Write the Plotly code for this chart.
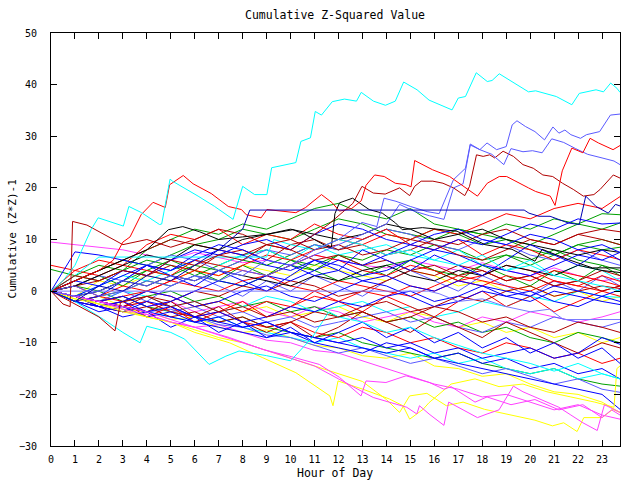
import plotly.graph_objects as go

# ---------------- data ----------------
HOURS = list(range(24)) + [23.75]
X_TICKS = list(range(24))
Y_TICKS = [-30, -20, -10, 0, 10, 20, 30, 40, 50]

RED = '#ff0000'; DKRED = '#b00000'; BLUE = '#0000ff'; MBLUE = '#5a5aff'
NAVY = '#0000b4'; CYAN = '#00ffff'; MAG = '#ff40ff'; YEL = '#ffff00'
GRN = '#00a000'; BLK = '#000000'; PURP = '#7878ff'

# traced lines (hour, value)
cyan_top_x = [0, 0.5, 1, 1.67, 1.97, 3.02, 3.25, 3.78, 4.53, 4.62, 4.97, 5.07, 6.14, 6.83, 7.6, 8.0, 8.5, 9.01, 9.21, 10.22, 10.43, 10.83, 11.03, 11.29, 11.74, 12.25, 12.75, 12.95, 13.46, 13.96, 14.37, 14.72, 15.28, 15.78, 16.74, 17.0, 17.3, 17.75, 18.21, 18.41, 18.71, 19.32, 19.93, 20.23, 21.09, 21.74, 22.05, 22.75, 23.06, 23.36, 23.62, 23.75]
cyan_top_y = [0, 2, 5, 11.9, 14.2, 12.6, 16.4, 15.2, 12.9, 13, 21.7, 21.3, 18.4, 16.4, 13.9, 20.3, 18.7, 18.7, 23.9, 24.9, 29, 29.7, 34.8, 34.1, 36.7, 37.2, 36.8, 38.5, 36.8, 36, 36.8, 40.5, 39, 37, 35.1, 37.4, 37.7, 42.3, 40.6, 40.8, 42.1, 40.3, 38.6, 38.8, 37.7, 36.1, 38.3, 39, 38.6, 40.3, 39.3, 38.5]

mblue_a_x = [0, 1, 2, 3, 4, 5, 6, 7, 8, 9, 10, 11, 12, 12.98, 13.6, 13.9, 14.4, 15.0, 15.7, 16.2, 16.8, 17.3, 17.5, 17.9, 18.2, 18.6, 19.0, 19.25, 19.45, 19.8, 20.2, 20.6, 20.95, 21.2, 21.45, 21.7, 22.1, 22.35, 22.9, 23.35, 23.75]
mblue_a_y = [0, -1, 0, 2, 1, 3, 2, 4, 3, 6, 5, 8, 10, 13.3, 12.5, 18, 17.4, 16.4, 15.4, 15, 21.6, 23.8, 28.5, 27.4, 28.7, 27.4, 28, 32.2, 33, 31.9, 30.9, 29.3, 31.8, 30.6, 31.2, 30.3, 29.6, 30.3, 30.9, 34.1, 34.3]

mblue_b_x = [0, 1, 2, 3, 4, 5, 6, 7, 8, 9, 10, 11, 12, 13, 14, 14.55, 15.15, 15.8, 16.4, 16.8, 17.2, 17.5, 17.9, 18.4, 18.9, 19.2, 19.7, 20.1, 20.5, 20.9, 21.4, 21.9, 22.4, 23.0, 23.5, 23.75]
mblue_b_y = [0, 1, -1, 0, 2, 1, 3, 2, 4, 3, 5, 7, 9, 11, 13, 16.8, 15.5, 14.6, 13.9, 20, 20.8, 28.3, 27.4, 26.5, 24.5, 27.6, 27, 27.2, 26.8, 29.5, 28.8, 27.6, 26.5, 25.8, 25.2, 24.5]

red_a_x = [0, 1, 2, 2.6, 3.0, 3.3, 3.76, 4.26, 4.77, 4.95, 5.52, 5.93, 6.69, 7.4, 7.95, 8.15, 8.77, 9.01, 9.67, 10.22, 10.63, 11.29, 11.74, 12.04, 12.55, 12.95, 13.15, 13.51, 13.91, 14.37, 14.82, 15.03, 15.18, 15.93, 16.64, 17.4, 17.8, 18.21, 18.71, 19.02, 19.52, 19.93, 20.23, 20.84, 21.04, 21.34, 21.74, 22.2, 22.5, 22.85, 23.46, 23.75]
red_a_y = [0, 2, 4, 6, 9.5, 10.5, 14.8, 17.2, 16.2, 20.6, 22.4, 20.8, 18.9, 16.4, 15.8, 14.8, 14.2, 15.8, 15.5, 15.2, 16.2, 18.7, 17.1, 15.5, 16, 17.5, 20.5, 22.5, 22.2, 20.9, 20.6, 20.2, 25.3, 23.5, 22.2, 19.6, 18.4, 20.9, 22.2, 22.2, 20.9, 20, 19.3, 18.4, 16.6, 23.3, 27.7, 26.8, 29.6, 28.7, 27.4, 28.2]

dkred_a_x = [0, 1, 2, 3, 4, 5, 6, 7, 8, 9, 10, 11, 11.6, 12.1, 12.6, 12.98, 13.45, 13.95, 14.55, 14.97, 15.18, 15.45, 15.94, 16.36, 16.8, 17.27, 17.47, 17.76, 18.04, 18.31, 18.52, 18.87, 19.3, 19.7, 20.13, 20.53, 20.94, 21.35, 21.8, 22.22, 22.66, 22.92, 23.47, 23.75]
dkred_a_y = [0, 3, 2, 4, 3, 6, 5, 7, 6, 9, 8, 11, 13, 15, 17, 20.3, 19, 18.8, 20, 18.5, 20.3, 21.3, 21.3, 20.9, 20, 18.5, 20.3, 26.4, 26.1, 26.4, 25.8, 27.1, 26.1, 24.5, 23.8, 22.5, 22.2, 20.9, 19.7, 18.4, 18.7, 19.7, 22.5, 21.9]

navy_flat_x = [0, 1, 2, 3, 4, 5, 6, 7, 7.5, 8.0, 8.3, 8.5, 19.75, 19.95, 20.37, 20.83, 21.16, 21.59, 22.05, 22.32, 22.75, 23.26, 23.56, 23.75]
navy_flat_y = [0, -2, 1, 0, 3, 2, 5, 8, 10, 12, 15.7, 15.7, 15.7, 15.1, 14.5, 14.5, 13.9, 13.2, 12.9, 18.4, 16.4, 15.1, 16.8, 16.5]

black_a_x = [0, 1, 2, 3, 4, 4.9, 5.5, 6.2, 7, 8, 9, 10.1, 10.6, 11.5, 11.7, 11.85, 12.04, 12.59, 12.9, 13.28, 13.83, 14.38, 14.66, 15.5, 16.95, 18.12, 19.24, 20.2, 20.5, 21.6, 22.6, 23.75]
black_a_y = [0, 2, 4, 6, 8, 11.9, 12.5, 11.5, 10, 10.5, 11, 11.9, 11, 8.7, 8.4, 15, 17.1, 18, 17, 15.8, 15.1, 13.2, 11.9, 12.3, 11.6, 9, 8.1, 5.8, 8.1, 6.1, 4.5, 4.5]

purple_flat_x = [0, 15.75, 16.2, 17, 18, 19, 20, 20.8, 21.4, 23.75]
purple_flat_y = [0, 0, -0.5, -2, -1.5, -3, -4, -3.5, -5.5, -5.5]

cyan_flat_x = [0, 1, 2, 9.0, 9.3, 10, 11, 12, 13, 14, 15, 16, 17, 18, 19, 20, 21, 22, 23, 23.75]
cyan_flat_y = [0, 3, 6.6, 6.6, 10, 9, 8, 10, 9, 7, 8, 6, 5, 7, 4, 5, 3, 2, 1, 0]

dkred_b_x = [0, 0.5, 0.8, 0.9, 1.5, 2, 3, 4, 5, 6, 7, 8, 9, 10, 11, 12, 13, 14, 15, 16, 17, 18, 19, 20, 21, 22, 23, 23.75]
dkred_b_y = [0, -2.5, -3, 13.5, 12.8, 11.5, 9, 10, 8.5, 10, 12, 11, 9, 10, 8, 9, 7, 8, 10, 9, 7, 6, 8, 10, 9, 11, 12, 11.5]

dkred_c_x = [0, 1, 2, 2.67, 2.9, 4, 5, 6, 7, 8, 9, 10, 11, 12, 13, 14, 15, 16, 17, 18, 19, 20, 21, 22, 23, 23.75]
dkred_c_y = [0, -2.5, -5, -7.7, -2.2, -1, -3, -2, -4, -3, -5, -4, -6, -5, -4, -6, -5, -3, -4, -6, -5, -7, -8, -6, -7, -8]

mag_a_x = [0, 1, 2, 3, 4, 5, 6, 7.45, 8.84, 9.95, 11.2, 12.04, 12.94, 13.15, 13.98, 14.82, 15.79, 16.4, 16.7, 17.2, 17.7, 18.2, 19.2, 20.2, 21.2, 22.2, 23.0, 23.4, 23.75]
mag_a_y = [0, -1, -2, -3, -4, -5.5, -7, -9, -11.3, -12.6, -14.2, -16.7, -20.3, -17.4, -17.7, -16.4, -17.7, -19, -18.5, -20, -21.5, -20.5, -22, -21, -23, -22, -24.5, -23, -24]

mag_b_x = [0, 1, 2, 3, 4, 5, 6, 7, 8, 9, 10, 11, 12, 13.45, 14.85, 15.27, 15.38, 15.78, 16.4, 16.6, 17.2, 17.8, 18.2, 18.7, 19.3, 19.7, 20.2, 20.7, 21.2, 21.7, 22.2, 22.8, 23.1, 23.75]
mag_b_y = [0, -1, -2, -3.5, -4.5, -6, -7, -8.5, -10, -11.5, -13, -14.5, -17, -20.6, -22.5, -23.8, -22.2, -23.8, -26, -21.5, -23, -24.5, -23.8, -23, -18.4, -19.5, -20.5, -21.5, -22.5, -24, -25.5, -27, -22, -23.5]

yel_a_x = [0, 1, 2, 3, 4, 5, 6, 7.45, 8.84, 10.22, 11.64, 11.77, 11.98, 13.02, 14.13, 14.69, 14.97, 15.53, 15.78, 16.7, 17.7, 18.7, 19.7, 20.7, 21.7, 22.7, 23.5, 23.62, 23.75]
yel_a_y = [0, -1.5, -2.5, -4, -5, -6, -8, -10, -12.9, -15.8, -20.3, -22.2, -17.4, -19, -20.9, -22.2, -24.8, -22.9, -21.6, -18, -17, -18.5, -18, -19.5, -20.5, -21.5, -22.5, -15, -14.5]

yel_b_x = [0, 1, 2, 3, 4, 5, 6, 7, 8, 9, 10, 11, 12, 13, 14, 14.55, 14.97, 15.69, 16.5, 17.2, 18.1, 18.7, 19.27, 20.2, 20.93, 21.4, 21.96, 22.24, 23.0, 23.45, 23.75]
yel_b_y = [0, -1, -2.5, -3.5, -5, -6, -7.5, -9, -10, -11.5, -13, -14.5, -16, -17.5, -21, -23.5, -20.3, -19.8, -22.2, -21.5, -22.9, -23.5, -24.1, -25, -26.1, -25.5, -27.2, -24.5, -24.5, -22.9, -23.5]

cyan_low_x = [0, 1, 2.2, 3.0, 3.72, 4.0, 5.0, 5.58, 6.6, 7.3, 7.85, 9, 10, 10.9, 11.6, 12, 13, 14, 15, 16, 17, 18, 19, 20, 21, 22, 23, 23.75]
cyan_low_y = [0, -2, -5.5, -8, -10, -6.8, -8, -9.3, -14.2, -12.6, -11.6, -12.5, -13.5, -9, -4, -5, -6, -8, -7, -9, -10.5, -12, -13, -14, -15.5, -14, -16, -17]

# hourly-read lines (values at HOURS)
b01 = [0, 3, 5, 4, 8, 10, 12, 11, 13, 12, 14, 16, 17, 15, 14, 16, 13, 12, 11, 10, 9, 11, 13, 15, 14.8]
b02 = [0, 2, 4, 6, 5, 7, 9, 10, 12, 11, 10, 12, 14, 13, 11, 10, 12, 11, 9, 10, 8, 7, 9, 10, 9]
b03 = [0, 1, 3, 5, 7, 6, 9, 8, 10, 11, 12, 11, 10, 11, 13, 12, 10, 11, 12, 10, 9, 8, 7, 8, 7.5]
b04 = [0, 4, 6, 5, 9, 11, 10, 12, 9, 11, 10, 13, 11, 10, 12, 9, 8, 10, 7, 9, 8, 6, 8, 7, 6.1]
b05 = [0, 2, 1, 4, 3, 6, 8, 7, 9, 10, 8, 11, 13, 12, 10, 9, 11, 12, 10, 9, 11, 10, 8, 9, 7.5]
b06 = [0, 1, 3, 2, 5, 7, 6, 4, 6, 8, 7, 9, 8, 10, 12, 11, 9, 8, 10, 9, 7, 6, 8, 6, 5]
b07 = [0, 1, 2, 4, 3, 5, 4, 7, 8, 6, 9, 10, 8, 9, 7, 8, 10, 9, 11, 12, 10, 9, 11, 10, 9]
b08 = [0, -1, 1, 3, 2, 4, 6, 5, 7, 8, 6, 9, 7, 8, 9, 7, 6, 8, 5, 4, 6, 3, 5, 4, 2]
b09 = [9.5, 9, 8.5, 8, 7, 6, 7.5, 6.5, 5.5, 6, 5, 7, 6, 5, 4.5, 6, 5, 4, 5.5, 4, 3, 4.5, 3, 2, 2.5]
b10 = [4.2, 3, 2, 4, 6, 5, 3, 5, 7, 8, 6, 5, 7, 6, 8, 7, 9, 8, 6, 7, 5, 7, 9, 8, 8.5]
b11 = [5, 4, 3, 5, 4, 3, 6, 5, 4, 3, 5, 7, 6, 4, 3, 5, 4, 2, 3, 5, 4, 2, 1, 3, 1.9]
b12 = [0, 7.6, 7, 6, 5, 4, 6, 8, 7, 5, 4, 6, 5, 3, 4, 6, 8, 7, 5, 4, 3, 5, 7, 6, 7.5]
b13 = [0, -1, 2, 1, 3, 2, 4, 3, 5, 4, 3, 5, 4, 3, 2, 4, 3, 1, 2, 0, 1, -1, 0, -2, -1]
b14 = [0, -2, -1, 1, 0, 2, 1, 0, 2, 3, 1, 0, 2, 1, 0, -1, 1, 3, 2, 1, 0, 2, 1, 0, 1]
b15 = [0, -1, -3, -2, 0, -1, -3, -2, 0, 1, -1, -2, 0, 2, 1, -1, -3, -2, 0, -1, -2, 0, -1, -2, -2.6]
b16 = [0, -1, -2, -3, -1, -2, 0, -1, 1, 0, 2, 1, -1, 0, 2, 4, 3, 5, 4, 2, 3, 1, 2, 4, 3]
b17 = [0, -2, -1, 0, 2, 1, 3, 2, 1, 3, 5, 4, 2, 3, 5, 6, 4, 3, 5, 7, 6, 8, 6, 5, 4]
b18 = [0, -1, -2, 0, -1, -3, -2, -4, -3, -1, -2, -4, -3, -2, -4, -3, -5, -4, -2, -3, -1, -2, 0, -1, -1.2]
b19 = [0, -1, -2, -1, -3, -2, -4, -3, -2, -4, -5, -3, -4, -6, -5, -4, -6, -7, -5, -6, -4, -5, -6, -5, -4]
b20 = [0, -1, 0, 2, 1, 3, 2, 4, 3, 2, 1, 3, 2, 4, 5, 3, 2, 4, 3, 5, 4, 3, 5, 4, 3.6]
b21 = [0, -2, -3, -4, -2, -3, -5, -4, -6, -5, -3, -4, -2, -3, -1, 0, -2, -1, 1, 0, -1, 1, 0, -1, 0.3]
b22 = [0, 1, -1, -2, 0, -1, -3, -2, -4, -2, -3, -1, -2, 0, -1, 1, 0, 2, 1, 3, 2, 4, 3, 2, 1]
b23 = [0, -1, -2, -3, -2, -4, -3, -5, -4, -6, -5, -7, -6, -5, -4, -6, -5, -7, -8, -6, -7, -5, -6, -7, -6]
b24 = [0, -2, -1, -3, -2, -4, -3, -2, -4, -3, -5, -4, -3, -5, -6, -4, -5, -7, -6, -8, -7, -9, -8, -10, -9]
b25 = [0, -2, -3, -4, -3, -5, -4, -6, -5, -7, -6, -4, -5, -3, -2, -4, -3, -1, -2, 0, 1, -1, 0, 1, 0.5]
b26 = [0, -1, 0, -2, -1, 0, -2, -1, -3, -2, -4, -3, -5, -4, -6, -5, -7, -6, -8, -7, -9, -10, -8, -9, -10]
b27 = [0, -2, -4, -3, -5, -4, -6, -7, -8, -9, -8, -10, -11, -12, -10, -11, -13, -12, -14, -13, -15, -14, -16, -15, -17]
b28 = [0, -1, -3, -2, -4, -5, -6, -5, -7, -6, -8, -9, -10, -11, -12, -11, -13, -14, -15, -16, -17, -18, -19, -20, -22.9]
b29 = [0, -1, -2, -1, -3, -4, -5, -6, -5, -7, -8, -9, -8, -10, -11, -12, -13, -12, -14, -15, -16, -15, -17, -18, -18.4]
b30 = [0, -1, -2, -3, -4, -3, -5, -6, -7, -6, -8, -9, -10, -9, -11, -10, -12, -11, -13, -12, -11, -13, -12, -9, -10.3]
b31 = [0, -1.5, -2, -3.5, -4, -5.5, -5, -7, -8, -7.5, -9, -10.5, -11, -12.5, -13, -12, -14.5, -15, -16.5, -16, -18, -19.5, -20, -21.5, -23.5]
b32 = [0, -1, -3, -4, -4.5, -6, -7, -6.5, -8, -9.5, -10, -11.5, -12, -13.5, -15, -16.5, -18, -19, -20.5, -20, -21.5, -23, -22, -24, -24.8]
b33 = [0, -1, -2.5, -3, -4, -3.5, -5, -6.5, -7, -8.5, -9, -10.5, -12, -11, -12.5, -14, -13, -14.5, -16, -15, -16.5, -18, -17, -19, -19.6]
b34 = [0, -1, -2, -3, -2, -4, -5, -4, -6, -7, -6, -8, -9, -7, -8, -10, -9, -11, -12, -10, -11, -13, -12, -14, -13]
b35 = [0, -1, -2, -3, -4, -5, -6, -5, -7, -8, -9, -10, -9, -11, -12, -13, -12, -14, -13, -15, -16, -15, -17, -16, -17]
b36 = [0, 2, 4, 6, 8, 10, 9, 8, 7, 9, 8, 6, 7, 5, 6, 4, 5, 3, 4, 2, 3, 1, 2, 0, 1]
b37 = [0, -1, 1, 3, 5, 4, 7, 9, 8, 6, 5, 3, 4, 2, 3, 1, 0, 2, 1, -1, 0, -2, -3, -1, -2]
b38 = [0, -1, -2, -1, 0, 2, 4, 3, 5, 7, 6, 8, 10, 9, 11, 10, 12, 11, 13, 15, 14, 16, 17, 16, 18.3]
b39 = [0, 1, 0, 2, 4, 3, 5, 4, 6, 5, 7, 9, 8, 10, 12, 11, 10, 12, 11, 13, 12, 14, 13, 12, 13.2]
b40 = [0, -1, -2, -1, -3, -2, 0, 2, 1, 3, 2, 4, 6, 5, 7, 9, 8, 10, 9, 11, 13, 12, 14, 13, 13.2]
b41 = [0, -2, -1, 2, 5, 3, 1, 4, 2, 0, 3, 6, 4, 8, 6, 4, 7, 5, 3, 6, 9, 7, 5, 8, 6]
b42 = [0, -1, -3, -2, -5, -3, -6, -4, -2, -5, -3, 0, -2, -4, -1, -3, -5, -2, 0, -3, -1, -4, -2, 0, -1]
b43 = [0, -1, -2, -3, -4, -2, -5, -3, -6, -8, -6, -9, -7, -4, -6, -8, -5, -7, -9, -6, -8, -10, -12, -10, -11]
b44 = [0, 1, 3, 1, 4, 6, 4, 2, 5, 3, 6, 4, 7, 5, 3, 6, 4, 2, 5, 3, 1, 4, 2, 5, 3]
b45 = [0, -1, -2, 0, -2, 1, 3, 1, -1, 2, 0, 3, 1, -1, 2, 4, 2, 0, 3, 1, -1, 2, 0, 3, 1]
b46 = [0, -2, -3, -5, -4, -7, -5, -8, -6, -9, -7, -10, -8, -6, -9, -7, -10, -8, -11, -9, -12, -10, -13, -11, -14]

HOURLY = [
    (b31, YEL), (b24, YEL), (b13, YEL), (b32, MAG), (b19, MAG), (b09, MAG),
    (b01, GRN), (b02, GRN), (b10, GRN), (b17, GRN), (b26, GRN), (b29, GRN), (b39, GRN), (b44, GRN),
    (b08, CYAN), (b18, CYAN), (b35, CYAN),
    (b06, MBLUE), (b23, MBLUE), (b33, MBLUE), (b45, MBLUE),
    (b04, RED), (b11, RED), (b14, RED), (b22, RED), (b34, RED), (b38, RED), (b42, RED),
    (b07, DKRED), (b16, DKRED), (b25, DKRED), (b36, DKRED), (b43, DKRED),
    (b03, BLK), (b20, BLK),
    (b05, BLUE), (b12, BLUE), (b15, BLUE), (b21, BLUE), (b27, BLUE), (b28, BLUE),
    (b30, BLUE), (b37, BLUE), (b40, BLUE), (b41, BLUE), (b46, BLUE),
]

TRACED = [
    (yel_a_x, yel_a_y, YEL), (yel_b_x, yel_b_y, YEL),
    (mag_a_x, mag_a_y, MAG), (mag_b_x, mag_b_y, MAG),
    (cyan_low_x, cyan_low_y, CYAN), (cyan_flat_x, cyan_flat_y, CYAN),
    (purple_flat_x, purple_flat_y, PURP),
    (dkred_b_x, dkred_b_y, DKRED), (dkred_c_x, dkred_c_y, DKRED),
    (dkred_a_x, dkred_a_y, DKRED),
    (black_a_x, black_a_y, BLK),
    (mblue_a_x, mblue_a_y, MBLUE), (mblue_b_x, mblue_b_y, MBLUE),
    (red_a_x, red_a_y, RED),
    (navy_flat_x, navy_flat_y, NAVY),
    (cyan_top_x, cyan_top_y, CYAN),
]

# ---------------- figure ----------------
FONT = 'DejaVu Sans Mono'
fig = go.Figure()
for vals, col in HOURLY:
    fig.add_trace(go.Scatter(x=HOURS, y=vals, mode='lines',
                             line=dict(color=col, width=1), hoverinfo='skip'))
for xs, ys, col in TRACED:
    fig.add_trace(go.Scatter(x=xs, y=ys, mode='lines',
                             line=dict(color=col, width=1), hoverinfo='skip'))

axis_common = dict(showgrid=False, zeroline=False, showline=True, linecolor='black',
                   linewidth=1, mirror='ticks', ticks='inside', ticklen=6,
                   tickcolor='black', tickwidth=1,
                   tickfont=dict(family=FONT, size=10, color='black'))
fig.update_xaxes(range=[0, 23.75], tickmode='array', tickvals=X_TICKS,
                 ticklabelstandoff=4, **axis_common)
fig.update_yaxes(range=[-30, 50], tickmode='array', tickvals=Y_TICKS,
                 ticklabelstandoff=11, **axis_common)

fig.update_layout(
    width=640, height=480, showlegend=False,
    margin=dict(l=51, r=20, t=33, b=34, autoexpand=False),
    plot_bgcolor='white', paper_bgcolor='white',
    font=dict(family=FONT, size=11, color='black'),
    annotations=[
        dict(text='Cumulative Z-Squared Value', xref='paper', yref='paper',
             x=0.499, y=1.0436, xanchor='center', yanchor='middle', showarrow=False,
             font=dict(family=FONT, size=11.5, color='black')),
        dict(text='Hour of Day', xref='paper', yref='paper',
             x=0.499, y=-0.066, xanchor='center', yanchor='middle', showarrow=False,
             font=dict(family=FONT, size=11.5, color='black')),
        dict(text='Cumulative (Z*Z)-1', xref='paper', yref='paper',
             x=-0.068, y=0.501, xanchor='center', yanchor='middle', showarrow=False,
             textangle=-90, font=dict(family=FONT, size=11, color='black')),
    ],
)

# remove the default 8px page margin so the figure sits at the window's corner
fig.write_html('out.html', config={'displayModeBar': False},
               post_script="document.body.style.margin='0';document.body.style.padding='0';")
